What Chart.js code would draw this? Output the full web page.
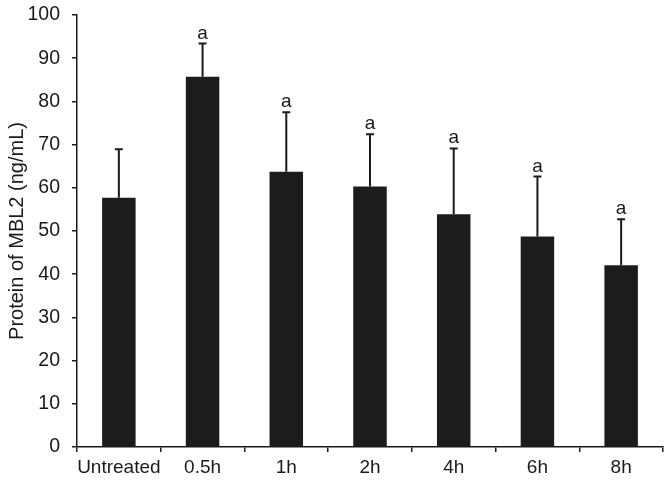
<!DOCTYPE html>
<html>
<head>
<meta charset="utf-8">
<script src="https://cdn.jsdelivr.net/npm/chart.js@4"></script>
<style>
  html, body { margin: 0; padding: 0; background: #ffffff; }
  #wrap { width: 672px; height: 482px; }
</style>
</head>
<body>
<div id="wrap"><canvas id="c" width="672" height="482"></canvas></div>
<script>
const categories = ["Untreated", "0.5h", "1h", "2h", "4h", "6h", "8h"];
const means = [57.7, 85.7, 63.7, 60.3, 53.9, 48.7, 42.1];
const errors = [11.2, 7.7, 13.8, 12.1, 15.2, 13.9, 10.6];
const sigLabels = ["", "a", "a", "a", "a", "a", "a"];
const yTicks = [0, 10, 20, 30, 40, 50, 60, 70, 80, 90, 100];

const FONT = "'Liberation Sans', Arial, Helvetica, sans-serif";
const INK = "#1a1a1a";

const errorBarPlugin = {
  id: "errorBars",
  afterDatasetsDraw(chart) {
    const ctx = chart.ctx;
    const xs = chart.scales.x, ys = chart.scales.y;
    ctx.save();
    ctx.strokeStyle = INK;
    ctx.lineWidth = 2;
    ctx.fillStyle = INK;
    ctx.font = "19px " + FONT;
    ctx.textAlign = "center";
    ctx.textBaseline = "alphabetic";
    means.forEach((m, i) => {
      const x = xs.getPixelForValue(i);
      const y0 = ys.getPixelForValue(m);
      const y1 = ys.getPixelForValue(m + errors[i]);
      ctx.beginPath();
      ctx.moveTo(x, y0);
      ctx.lineTo(x, y1);
      ctx.moveTo(x - 4, y1);
      ctx.lineTo(x + 4, y1);
      ctx.stroke();
      if (sigLabels[i]) {
        ctx.fillText(sigLabels[i], x, y1 - 5);
      }
    });
    ctx.restore();
  }
};

new Chart(document.getElementById("c"), {
  type: "bar",
  data: {
    labels: categories,
    datasets: [{
      data: means,
      backgroundColor: "#1c1c1c",
      borderColor: "#111111",
      borderWidth: 0,
      barPercentage: 0.4,
      categoryPercentage: 1.0
    }]
  },
  options: {
    responsive: false,
    animation: false,
    devicePixelRatio: 1,
    layout: { padding: { top: 15, right: 9, left: 0, bottom: 0 } },
    plugins: { legend: { display: false }, tooltip: { enabled: false } },
    scales: {
      x: {
        offset: true,
        grid: {
          offset: true,
          drawOnChartArea: false,
          drawTicks: true,
          tickLength: 5,
          color: INK,
          lineWidth: 1.5
        },
        border: { display: true, color: INK, width: 1.5 },
        ticks: {
          color: INK,
          font: { family: FONT, size: 19 },
          padding: 4,
          maxRotation: 0,
          autoSkip: false
        },
        afterFit(scale) {
          scale.height = 35;
          scale.paddingLeft = 0;
          scale.paddingRight = 0;
        }
      },
      y: {
        min: 0,
        max: 100,
        afterBuildTicks(scale) { scale.ticks = yTicks.map(v => ({ value: v })); },
        grid: {
          drawOnChartArea: false,
          drawTicks: true,
          tickLength: 5,
          color: INK,
          lineWidth: 1.5
        },
        border: { display: true, color: INK, width: 1.5 },
        ticks: {
          color: INK,
          font: { family: FONT, size: 19.5 },
          padding: 12
        },
        title: {
          display: true,
          text: "Protein of MBL2 (ng/mL)",
          color: INK,
          font: { family: FONT, size: 20 },
          padding: { top: 5, bottom: 0 }
        },
        afterFit(scale) {
          scale.width = 77;
          scale.paddingTop = 0;
          scale.paddingBottom = 0;
        }
      }
    }
  },
  plugins: [errorBarPlugin]
});
</script>
</body>
</html>
